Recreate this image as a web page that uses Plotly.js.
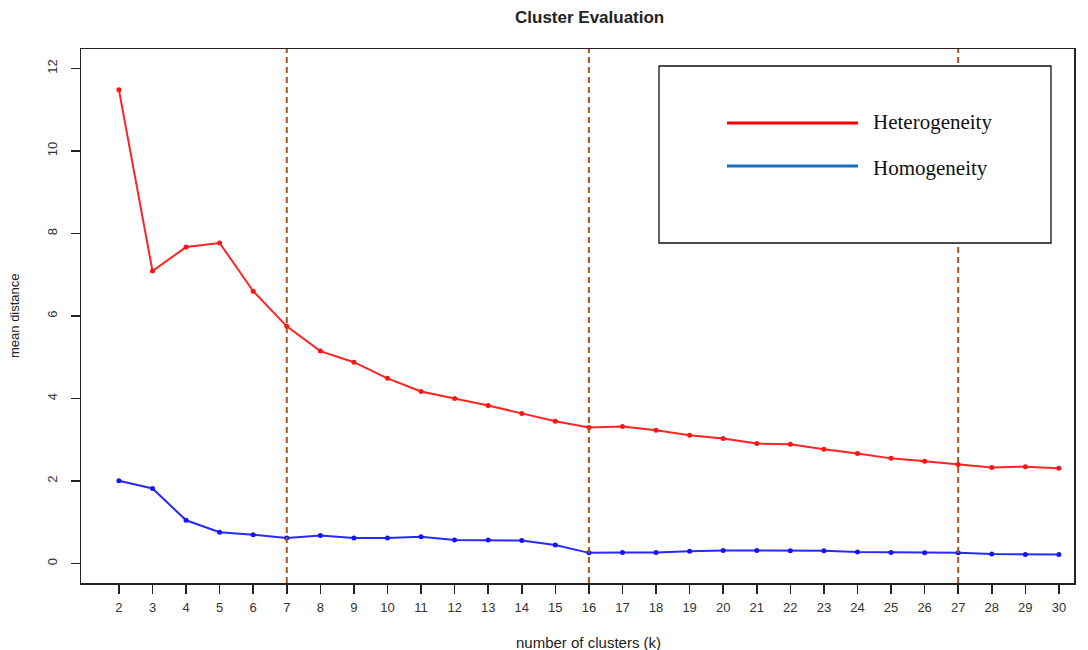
<!DOCTYPE html>
<html>
<head>
<meta charset="utf-8">
<script src="https://cdn.plot.ly/plotly-3.0.1.min.js"></script>
<style>html,body{margin:0;padding:0;background:#fff;}#chart{width:1088px;height:650px;}</style>
</head>
<body>
<div id="chart"></div>
<script>
const clusters = [2,3,4,5,6,7,8,9,10,11,12,13,14,15,16,17,18,19,20,21,22,23,24,25,26,27,28,29,30];
const heterogeneity = [11.48,7.09,7.67,7.77,6.60,5.75,5.15,4.88,4.49,4.17,4.00,3.83,3.64,3.45,3.30,3.32,3.23,3.11,3.03,2.91,2.89,2.77,2.67,2.55,2.48,2.40,2.33,2.35,2.31];
const homogeneity = [2.01,1.82,1.05,0.76,0.70,0.62,0.68,0.62,0.62,0.65,0.57,0.57,0.56,0.45,0.26,0.27,0.27,0.30,0.32,0.32,0.31,0.31,0.28,0.27,0.26,0.26,0.23,0.22,0.22];
const markedK = [7,16,27];
const yTicks = [0,2,4,6,8,10,12];
const seriesNames = ["Heterogeneity","Homogeneity"];

// plot area in pixels
const L = 81, R = 14, T = 49, B = 67, W = 1088, H = 650;
const pw = W - L - R, ph = H - T - B;
const px = x => (x - L) / pw;
const py = y => (H - B - y) / ph;

const traces = [
  {x: clusters, y: heterogeneity, mode: 'lines+markers', name: seriesNames[0],
   line: {color: 'rgb(255,35,35)', width: 2}, marker: {color: 'rgb(255,20,20)', size: 5}},
  {x: clusters, y: homogeneity, mode: 'lines+markers', name: seriesNames[1],
   line: {color: 'rgb(40,40,255)', width: 2}, marker: {color: 'rgb(20,20,255)', size: 5}}
];

const shapes = markedK.map(k => ({type: 'line', xref: 'x', yref: 'paper', x0: k, x1: k, y0: 0, y1: 1,
  line: {color: '#A5561C', width: 2, dash: '6px,4px'}}));
// legend box
shapes.push({type: 'rect', xref: 'paper', yref: 'paper', x0: px(659), x1: px(1051), y0: py(243), y1: py(66),
  line: {color: '#111', width: 1.3}, fillcolor: '#fff', layer: 'above'});
shapes.push({type: 'line', xref: 'paper', yref: 'paper', x0: px(727), x1: px(858), y0: py(123), y1: py(123),
  line: {color: '#FF0000', width: 3}, layer: 'above'});
shapes.push({type: 'line', xref: 'paper', yref: 'paper', x0: px(727), x1: px(858), y0: py(166), y1: py(166),
  line: {color: '#1570C0', width: 3}, layer: 'above'});

const annotations = [
  {text: '<b>Cluster Evaluation</b>', xref: 'paper', yref: 'paper', x: px(589), y: py(17), showarrow: false,
   xanchor: 'center', yanchor: 'middle', font: {family: 'Liberation Sans, Arial', size: 17, color: '#222'}},
  {text: 'number of clusters (k)', xref: 'paper', yref: 'paper', x: px(588), y: py(642), showarrow: false,
   xanchor: 'center', yanchor: 'middle', font: {family: 'Liberation Sans, Arial', size: 15, color: '#222'}},
  {text: 'mean distance', xref: 'paper', yref: 'paper', x: px(14), y: py(316), showarrow: false, textangle: -90,
   xanchor: 'center', yanchor: 'middle', font: {family: 'Liberation Sans, Arial', size: 13, color: '#222'}},
  {text: seriesNames[0], xref: 'paper', yref: 'paper', x: px(871), y: py(122), showarrow: false,
   xanchor: 'left', yanchor: 'middle', font: {family: 'Liberation Serif, Times New Roman', size: 21, color: '#111'}},
  {text: seriesNames[1], xref: 'paper', yref: 'paper', x: px(871), y: py(168), showarrow: false,
   xanchor: 'left', yanchor: 'middle', font: {family: 'Liberation Serif, Times New Roman', size: 21, color: '#111'}}
];

const layout = {
  width: W, height: H,
  margin: {l: L, r: R, t: T, b: B, pad: 0},
  paper_bgcolor: '#fff', plot_bgcolor: '#fff',
  showlegend: false,
  xaxis: {range: [0.87, 30.45], tickmode: 'array', tickvals: clusters, ticktext: clusters.map(String),
    ticks: 'outside', ticklen: 9, tickwidth: 1.5, tickcolor: '#222', showgrid: false, zeroline: false,
    showline: true, mirror: true, linecolor: '#222', linewidth: 1.5, ticklabelstandoff: 3,
    tickfont: {family: 'Liberation Sans, Arial', size: 13, color: '#333'}},
  yaxis: {range: [-0.47, 12.47], tickmode: 'array', tickvals: yTicks, ticktext: yTicks.map(String),
    tickangle: -90, ticks: 'outside', ticklen: 9, tickwidth: 1.5, tickcolor: '#222', showgrid: false, zeroline: false,
    showline: true, mirror: true, linecolor: '#222', linewidth: 1.5, ticklabelstandoff: 8,
    tickfont: {family: 'Liberation Sans, Arial', size: 13, color: '#333'}},
  shapes: shapes,
  annotations: annotations
};

Plotly.newPlot('chart', traces, layout, {displayModeBar: false, staticPlot: true});
</script>
</body>
</html>
